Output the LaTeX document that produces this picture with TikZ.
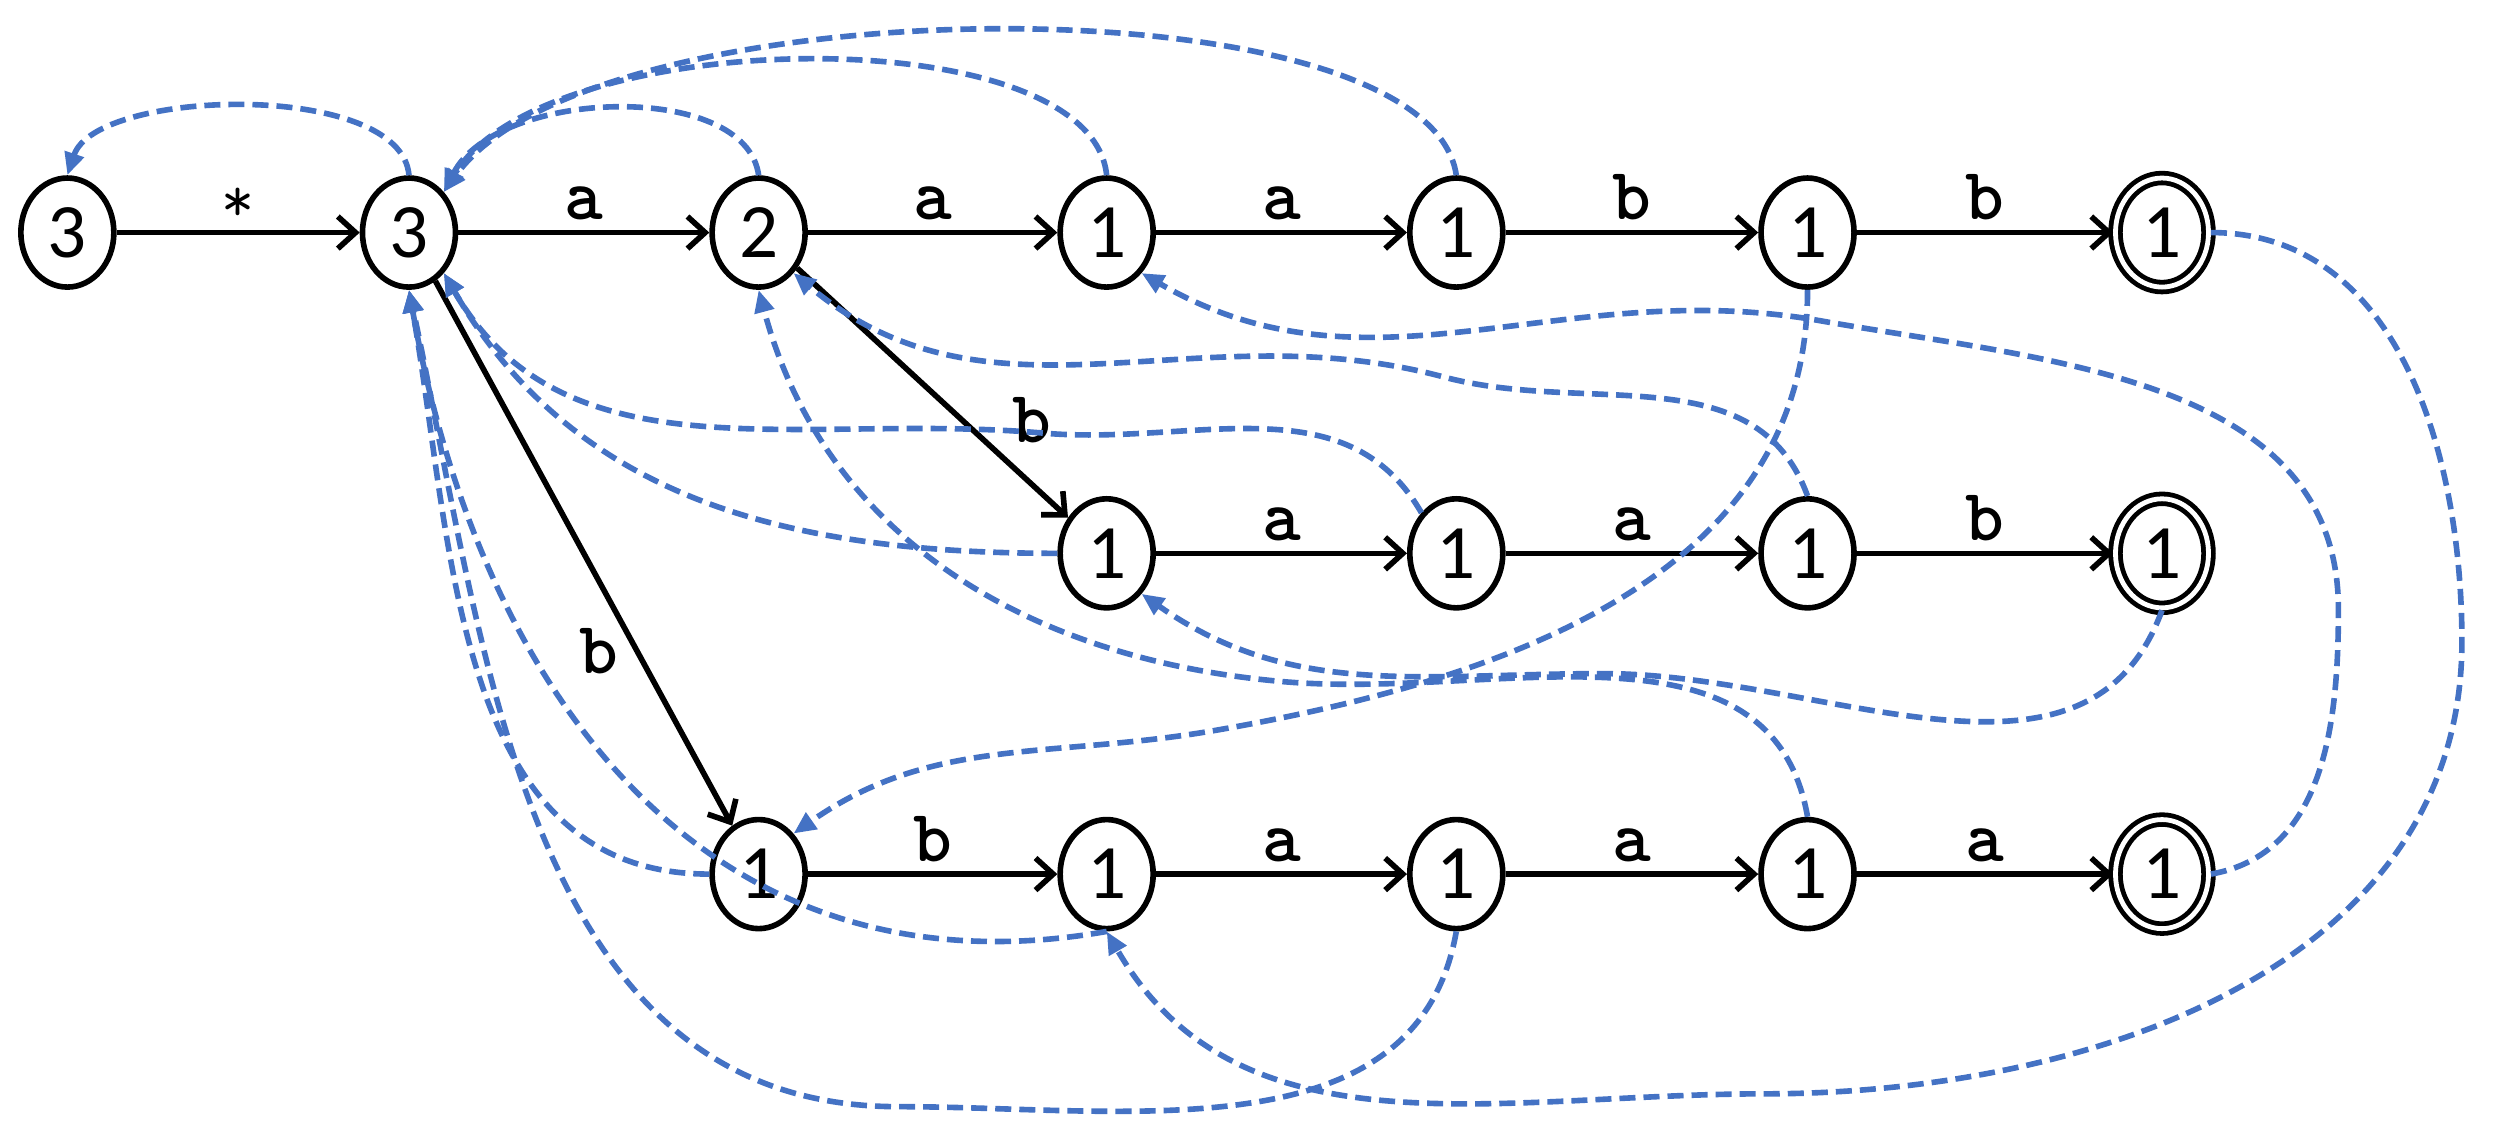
\documentclass[tikz,border=0pt]{standalone}
\usepackage{fontspec}
\setmainfont{Carlito}
\usetikzlibrary{arrows.meta,shapes.geometric}
\definecolor{fl}{HTML}{4472C4}
\begin{document}
\begin{tikzpicture}[x=1pt,y=-1pt,
  st/.style={ellipse,draw,line width=3.5pt,minimum width=58pt,minimum height=68pt,inner sep=0pt,font=\fontsize{48}{56}\selectfont},
  acc/.style={st,double,double distance=3pt,line width=3pt},
  tr/.style={line width=3.5pt,-{Straight Barb[length=11pt,width=20pt]}},
  fail/.style={fl,line width=3.5pt,dash pattern=on 10pt off 5pt,-{Triangle[length=14pt,width=12pt]}},
  lab/.style={font=\ttfamily\bfseries\fontsize{46}{52}\selectfont,inner sep=2pt}]
\useasboundingbox (0,0) rectangle (1560,709);
\node[st] (n0) at (42,145) {3};
\node[st] (n1) at (255,145) {3};
\node[st] (n2) at (473,145) {2};
\node[st] (r1) at (690,145) {1};
\node[st] (r2) at (908,145) {1};
\node[st] (r3) at (1127,145) {1};
\node[acc] (r4) at (1348,145) {1};
\node[st] (m1) at (690,345) {1};
\node[st] (m2) at (908,345) {1};
\node[st] (m3) at (1127,345) {1};
\node[acc] (m4) at (1348,345) {1};
\node[st] (b1) at (473,545) {1};
\node[st] (b2) at (690,545) {1};
\node[st] (b3) at (908,545) {1};
\node[st] (b4) at (1127,545) {1};
\node[acc] (b5) at (1348,545) {1};
% transitions
\draw[tr] (n0) -- node[above=2pt,font=\ttfamily\fontsize{40}{44}\selectfont] {*} (n1);
\draw[tr] (n1) -- node[lab,above=4pt] {a} (n2);
\draw[tr] (n2) -- node[lab,above=4pt] {a} (r1);
\draw[tr] (r1) -- node[lab,above=4pt] {a} (r2);
\draw[tr] (r2) -- node[lab,above=4pt] {b} (r3);
\draw[tr] (r3) -- node[lab,above=4pt] {b} (r4);
\draw[tr] (n2) -- node[lab,pos=0.75,above right=4pt] {b} (m1);
\draw[tr] (m1) -- node[lab,above=4pt] {a} (m2);
\draw[tr] (m2) -- node[lab,above=4pt] {a} (m3);
\draw[tr] (m3) -- node[lab,above=4pt] {b} (m4);
\draw[tr] (n1) -- node[lab,pos=0.68,left=8pt] {b} (b1);
\draw[tr] (b1) -- node[lab,above=4pt] {b} (b2);
\draw[tr] (b2) -- node[lab,above=4pt] {a} (b3);
\draw[tr] (b3) -- node[lab,above=4pt] {a} (b4);
\draw[tr] (b4) -- node[lab,above=4pt] {a} (b5);
% failure links
\draw[fail] (n1.north) .. controls (250,50) and (60,55) .. (n0.north);
\draw[fail] (n2.north) .. controls (465,50) and (310,55) .. (n1.north east);
\draw[fail] (r1.north) .. controls (680,10) and (340,15) .. (n1.north east);
\draw[fail] (r2.north) .. controls (890,-15) and (370,-10) .. (n1.north east);
\draw[fail] (m1.west) to[out=180,in=-60] (n1.south east);
\draw[fail] (m2.north west) to[out=120,in=-5] (650,270) to[out=175,in=-60] (n1.south east);
\draw[fail] (b1.west) to[out=180,in=-80] (n1.south);
\draw[fail] (b2.south) to[out=-170,in=-80,looseness=1.1] (n1.south);
\draw[fail] (b3.south) to[out=-100,in=0] (560,690) to[out=180,in=-78] (n1.south);
\draw[fail] (m3.north) to[out=110,in=-15] (900,235) to[out=165,in=-40] (n2.south east);
\draw[fail] (b4.north) to[out=100,in=-5] (800,425) to[out=175,in=-75] (n2.south);
\draw[fail] (b5.east) to[out=10,in=-90] (1458,380) to[out=90,in=-10] (1135,200) to[out=170,in=-30] (r1.south east);
\draw[fail] (m4.south) to[out=-110,in=0] (1000,420) to[out=180,in=-35] (m1.south east);
\draw[fail] (r3.south) to[out=-90,in=10] (760,455) to[out=190,in=35] (b1.north east);
\draw[fail] (r4.east) to[out=0,in=90] (1535,400) to[out=-90,in=0] (1100,682) to[out=180,in=-60] (b2.south);
\end{tikzpicture}
\end{document}
